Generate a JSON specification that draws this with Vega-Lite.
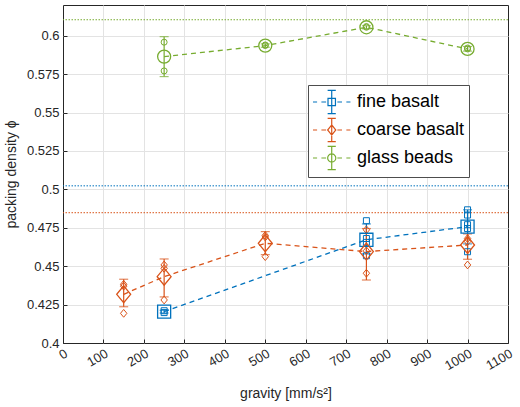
{
  "$schema": "https://vega.github.io/schema/vega-lite/v6.json",
  "autosize": "none",
  "width": 445,
  "height": 338,
  "padding": {"left": 63, "top": 5, "right": 12, "bottom": 64},
  "background": "white",
  "datasets": {
    "means": [
      {"series": "fine basalt", "gravity": 250, "phi": 0.4204, "lo": 0.4195, "hi": 0.4213},
      {"series": "fine basalt", "gravity": 750, "phi": 0.4672, "lo": 0.4580, "hi": 0.4775},
      {"series": "fine basalt", "gravity": 1000, "phi": 0.4757, "lo": 0.4645, "hi": 0.4867},
      {"series": "coarse basalt", "gravity": 150, "phi": 0.4317, "lo": 0.4236, "hi": 0.4415},
      {"series": "coarse basalt", "gravity": 250, "phi": 0.4432, "lo": 0.4300, "hi": 0.4547},
      {"series": "coarse basalt", "gravity": 500, "phi": 0.4649, "lo": 0.4575, "hi": 0.4725},
      {"series": "coarse basalt", "gravity": 750, "phi": 0.4595, "lo": 0.4410, "hi": 0.4745},
      {"series": "coarse basalt", "gravity": 1000, "phi": 0.4638, "lo": 0.4545, "hi": 0.4710},
      {"series": "glass beads", "gravity": 250, "phi": 0.5864, "lo": 0.5734, "hi": 0.5994},
      {"series": "glass beads", "gravity": 500, "phi": 0.5936, "lo": 0.5925, "hi": 0.5947},
      {"series": "glass beads", "gravity": 750, "phi": 0.6055, "lo": 0.6045, "hi": 0.6065},
      {"series": "glass beads", "gravity": 1000, "phi": 0.5914, "lo": 0.5900, "hi": 0.5930}
    ],
    "samples": [
      {"series": "fine basalt", "gravity": 250, "phi": 0.4198},
      {"series": "fine basalt", "gravity": 250, "phi": 0.4210},
      {"series": "fine basalt", "gravity": 750, "phi": 0.4796},
      {"series": "fine basalt", "gravity": 750, "phi": 0.4680},
      {"series": "fine basalt", "gravity": 750, "phi": 0.4655},
      {"series": "fine basalt", "gravity": 750, "phi": 0.4568},
      {"series": "fine basalt", "gravity": 1000, "phi": 0.4867},
      {"series": "fine basalt", "gravity": 1000, "phi": 0.4833},
      {"series": "fine basalt", "gravity": 1000, "phi": 0.4770},
      {"series": "fine basalt", "gravity": 1000, "phi": 0.4745},
      {"series": "fine basalt", "gravity": 1000, "phi": 0.4594},
      {"series": "coarse basalt", "gravity": 150, "phi": 0.4382},
      {"series": "coarse basalt", "gravity": 150, "phi": 0.4370},
      {"series": "coarse basalt", "gravity": 150, "phi": 0.4193},
      {"series": "coarse basalt", "gravity": 250, "phi": 0.4508},
      {"series": "coarse basalt", "gravity": 250, "phi": 0.4486},
      {"series": "coarse basalt", "gravity": 250, "phi": 0.4280},
      {"series": "coarse basalt", "gravity": 500, "phi": 0.4700},
      {"series": "coarse basalt", "gravity": 500, "phi": 0.4690},
      {"series": "coarse basalt", "gravity": 500, "phi": 0.4562},
      {"series": "coarse basalt", "gravity": 750, "phi": 0.4737},
      {"series": "coarse basalt", "gravity": 750, "phi": 0.4600},
      {"series": "coarse basalt", "gravity": 750, "phi": 0.4454},
      {"series": "coarse basalt", "gravity": 1000, "phi": 0.4680},
      {"series": "coarse basalt", "gravity": 1000, "phi": 0.4660},
      {"series": "coarse basalt", "gravity": 1000, "phi": 0.4508},
      {"series": "glass beads", "gravity": 250, "phi": 0.5958},
      {"series": "glass beads", "gravity": 250, "phi": 0.5771},
      {"series": "glass beads", "gravity": 500, "phi": 0.5936},
      {"series": "glass beads", "gravity": 500, "phi": 0.5940},
      {"series": "glass beads", "gravity": 750, "phi": 0.6055},
      {"series": "glass beads", "gravity": 750, "phi": 0.6060},
      {"series": "glass beads", "gravity": 1000, "phi": 0.5914},
      {"series": "glass beads", "gravity": 1000, "phi": 0.5920}
    ],
    "refs": [
      {"series": "fine basalt", "phi": 0.5023},
      {"series": "coarse basalt", "phi": 0.4848},
      {"series": "glass beads", "phi": 0.6104}
    ]
  },
  "encoding": {
    "x": {
      "field": "gravity",
      "type": "quantitative",
      "scale": {"domain": [0, 1100], "nice": false},
      "axis": {
        "title": "gravity [mm/s²]",
        "values": [0, 100, 200, 300, 400, 500, 600, 700, 800, 900, 1000, 1100],
        "format": "d",
        "labelAngle": -30,
        "titlePadding": 14,
        "gridOpacity": {"condition": {"test": "datum.value === 1100 || datum.value === 0", "value": 0}, "value": 1}
      }
    },
    "y": {
      "field": "phi",
      "type": "quantitative",
      "scale": {"domain": [0.4, 0.62], "nice": false, "zero": false},
      "axis": {
        "title": "packing density ϕ",
        "values": [0.4, 0.425, 0.45, 0.475, 0.5, 0.525, 0.55, 0.575, 0.6],
        "format": ".3~f",
        "titlePadding": 8,
        "gridOpacity": {"condition": {"test": "datum.value <= 0.4001", "value": 0}, "value": 1}
      }
    },
    "color": {
      "field": "series",
      "type": "nominal",
      "scale": {
        "domain": ["fine basalt", "coarse basalt", "glass beads"],
        "range": ["#0072BD", "#D95319", "#77AC30"]
      },
      "legend": null
    }
  },
  "resolve": {"scale": {"shape": "independent", "color": "independent"}},
  "layer": [
    {
      "data": {"name": "refs"},
      "mark": {"type": "rule", "strokeDash": [1.5, 1.5], "strokeWidth": 1},
      "encoding": {"x": null}
    },
    {
      "data": {"name": "means"},
      "mark": {"type": "rule", "strokeWidth": 1.2},
      "encoding": {"y": {"field": "lo"}, "y2": {"field": "hi"}}
    },
    {
      "data": {"name": "means"},
      "mark": {"type": "tick", "orient": "horizontal", "size": 9, "thickness": 1.2},
      "encoding": {"y": {"field": "lo"}}
    },
    {
      "data": {"name": "means"},
      "mark": {"type": "tick", "orient": "horizontal", "size": 9, "thickness": 1.2},
      "encoding": {"y": {"field": "hi"}}
    },
    {
      "data": {"name": "means"},
      "mark": {"type": "line", "strokeDash": [5, 4], "strokeWidth": 1.3},
      "encoding": {"detail": {"field": "series"}}
    },
    {
      "data": {"name": "samples"},
      "mark": {"type": "point", "filled": false, "size": 36, "strokeWidth": 1, "opacity": 1},
      "encoding": {
        "shape": {
          "field": "series",
          "type": "nominal",
          "scale": {
            "domain": ["fine basalt", "coarse basalt", "glass beads"],
            "range": ["square", "M0,-1.3L1.07,0L0,1.3L-1.07,0Z", "circle"]
          },
          "legend": null
        }
      }
    },
    {
      "data": {"name": "means"},
      "mark": {"type": "point", "filled": false, "size": 170, "strokeWidth": 1.3, "opacity": 1},
      "encoding": {
        "shape": {
          "field": "series",
          "type": "nominal",
          "scale": {
            "domain": ["fine basalt", "coarse basalt", "glass beads"],
            "range": ["square", "M0,-1.3L1.07,0L0,1.3L-1.07,0Z", "circle"]
          },
          "legend": null
        }
      }
    },
    {
      "data": {"name": "refs"},
      "mark": {"type": "point", "filled": false, "opacity": 0, "size": 576, "strokeWidth": 1.2},
      "encoding": {
        "x": null,
        "color": {
          "field": "series",
          "type": "nominal",
          "scale": {
            "domain": ["fine basalt", "coarse basalt", "glass beads"],
            "range": ["#0072BD", "#D95319", "#77AC30"]
          },
          "legend": {
            "title": null,
            "orient": "none",
            "legendX": 245,
            "legendY": 80,
            "symbolSize": 576,
            "symbolStrokeWidth": 1.2,
            "symbolOpacity": 1,
            "labelFontSize": 18,
            "labelFont": "Liberation Sans",
            "labelColor": "#000000",
            "labelOffset": 19,
            "rowPadding": -5,
            "padding": 4,
            "fillColor": "white",
            "strokeColor": "#4d4d4d"
          }
        },
        "shape": {
          "field": "series",
          "type": "nominal",
          "scale": {
            "domain": ["fine basalt", "coarse basalt", "glass beads"],
            "range": [
              "M-1,0H-0.66M-0.3,0H0.09M1.03,0H1.42M1.78,0H2.12M0.56,-0.97V0.97M0.22,-0.97H0.9M0.22,0.97H0.9M0.25,-0.31H0.87V0.31H0.25Z",
              "M-1,0H-0.66M-0.3,0H0.09M1.03,0H1.42M1.78,0H2.12M0.56,-0.97V0.97M0.22,-0.97H0.9M0.22,0.97H0.9M0.56,-0.42L0.9,0L0.56,0.42L0.22,0Z",
              "M-1,0H-0.66M-0.3,0H0.09M1.03,0H1.42M1.78,0H2.12M0.56,-0.97V0.97M0.22,-0.97H0.9M0.22,0.97H0.9M0.22,0A0.34,0.34 0 1,0 0.9,0A0.34,0.34 0 1,0 0.22,0Z"
            ]
          },
          "legend": null
        }
      }
    }
  ],
  "config": {
    "view": {"stroke": "#262626", "strokeWidth": 1},
    "font": "Liberation Sans",
    "axis": {
      "labelFont": "Liberation Sans",
      "labelFontSize": 13,
      "labelColor": "#262626",
      "titleFont": "Liberation Sans",
      "titleFontSize": 14,
      "titleFontWeight": "normal",
      "titleColor": "#262626",
      "gridColor": "#e3e3e3",
      "gridWidth": 1,
      "domain": false,
      "tickColor": "#262626",
      "tickSize": -4,
      "labelPadding": 8
    }
  }
}
